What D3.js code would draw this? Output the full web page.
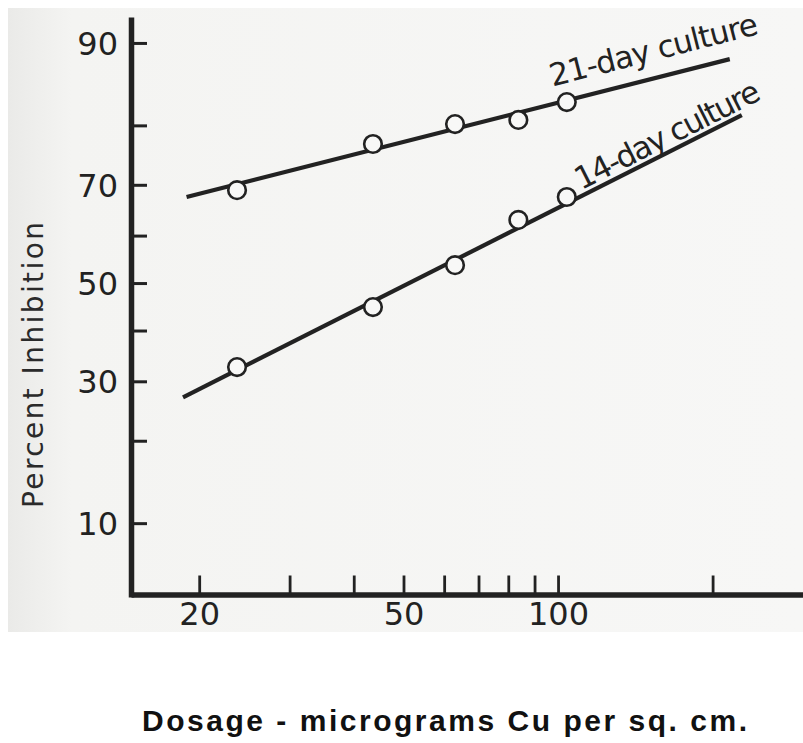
<!DOCTYPE html>
<html>
<head>
<meta charset="utf-8">
<script src="https://cdn.jsdelivr.net/npm/d3@7"></script>
<style>
  html, body { margin: 0; padding: 0; background: #ffffff; }
  svg { display: block; }
</style>
</head>
<body>
<svg id="chart" width="803" height="743"></svg>
<script>
// ---------------- data ----------------
const doses = [23.7, 43.6, 63, 83.7, 104];            // micrograms Cu per sq. cm.
const inhib21 = [69.0, 77.1, 80.2, 80.8, 83.3];        // 21-day culture, percent inhibition
const inhib14 = [32.7, 44.9, 53.8, 63.2, 67.7];        // 14-day culture, percent inhibition
const fitDose21 = [18.9, 216];
const fitInhib21 = [67.7, 88.4];
const fitDose14 = [18.6, 228];
const fitInhib14 = [27.1, 81.5];
const seriesNames = ["21-day culture", "14-day culture"];
const xTicks = [20, 30, 40, 50, 60, 70, 80, 90, 100, 200];
const xTickLabels = [20, 50, 100];
const yTicks = [10, 20, 30, 40, 50, 60, 70, 80, 90];
const yTickLabels = [10, 30, 50, 70, 90];
const xTitle = "Dosage - micrograms Cu per sq. cm.";
const yTitle = "Percent Inhibition";

// ---------------- probit (inverse normal CDF) ----------------
function probit(p) {
  const a=[-3.969683028665376e+01,2.209460984245205e+02,-2.759285104469687e+02,1.383577518672690e+02,-3.066479806614716e+01,2.506628277459239e+00];
  const b=[-5.447609879822406e+01,1.615858368580409e+02,-1.556989798598866e+02,6.680131188771972e+01,-1.328068155288572e+01];
  const c=[-7.784894002430293e-03,-3.223964580411365e-01,-2.400758277161838e+00,-2.549732539343734e+00,4.374664141464968e+00,2.938163982698783e+00];
  const d=[7.784695709041462e-03,3.224671290700398e-01,2.445134137142996e+00,3.754408661907416e+00];
  const pl = 0.02425, ph = 1 - pl;
  let q, r;
  if (p < pl) { q = Math.sqrt(-2*Math.log(p)); return (((((c[0]*q+c[1])*q+c[2])*q+c[3])*q+c[4])*q+c[5])/((((d[0]*q+d[1])*q+d[2])*q+d[3])*q+1); }
  if (p <= ph) { q = p - 0.5; r = q*q; return (((((a[0]*r+a[1])*r+a[2])*r+a[3])*r+a[4])*r+a[5])*q/(((((b[0]*r+b[1])*r+b[2])*r+b[3])*r+b[4])*r+1); }
  q = Math.sqrt(-2*Math.log(1-p));
  return -(((((c[0]*q+c[1])*q+c[2])*q+c[3])*q+c[4])*q+c[5])/((((d[0]*q+d[1])*q+d[2])*q+d[3])*q+1);
}

// custom probability scale built on d3.scaleLinear
function scaleProbit() {
  const lin = d3.scaleLinear();
  let dom = [5, 95];
  function s(v) { return lin(probit(v / 100)); }
  s.domain = function(dd) { if (!arguments.length) return dom.slice(); dom = dd.slice(); lin.domain(dom.map(v => probit(v / 100))); return s; };
  s.range = function(rr) { if (!arguments.length) return lin.range(); lin.range(rr); return s; };
  s.copy = function() { return scaleProbit().domain(dom).range(lin.range()); };
  s.domain(dom);
  return s;
}

// ---------------- layout ----------------
const ink = "#222";
const svg = d3.select("#chart");
const axisX = 131, axisY = 594.5, topY = 17, rightX = 803;

// scanned paper background
const defs = svg.append("defs");
const grad = defs.append("linearGradient").attr("id", "paper").attr("x1", "0").attr("x2", "1").attr("y1", "0").attr("y2", "0");
grad.append("stop").attr("offset", "0").attr("stop-color", "#eaeae8");
grad.append("stop").attr("offset", "0.08").attr("stop-color", "#f4f4f2");
grad.append("stop").attr("offset", "1").attr("stop-color", "#f7f7f6");
svg.append("rect").attr("x", 8).attr("y", 8).attr("width", 795).attr("height", 624).attr("fill", "url(#paper)");

const x = d3.scaleLog().domain([14.73, 300]).range([axisX, rightX]);
const y = scaleProbit().domain([4.69, 92.22]).range([597, topY]);

// y axis
const yAxis = d3.axisLeft(y)
  .tickValues(yTicks)
  .tickSizeInner(-16)
  .tickSizeOuter(0)
  .tickPadding(13)
  .tickFormat(d => yTickLabels.includes(d) ? String(d) : "");
const gy = svg.append("g").attr("transform", `translate(${axisX},0)`).call(yAxis);
gy.select(".domain").attr("stroke", ink).attr("stroke-width", 5.5);
gy.selectAll(".tick line").attr("stroke", ink).attr("stroke-width", 3);
gy.selectAll(".tick text").attr("fill", ink)
  .attr("font-family", "DejaVu Sans").attr("font-size", 32).attr("dy", "0.36em");

// x axis
const xAxis = d3.axisBottom(x)
  .tickValues(xTicks)
  .tickSizeInner(-19)
  .tickSizeOuter(0)
  .tickPadding(8)
  .tickFormat(d => xTickLabels.includes(d) ? String(d) : "");
const gx = svg.append("g").attr("transform", `translate(0,${axisY})`).call(xAxis);
gx.select(".domain").attr("stroke", ink).attr("stroke-width", 5.5);
gx.selectAll(".tick line").attr("stroke", ink).attr("stroke-width", 2.8);
gx.selectAll(".tick text").attr("fill", ink)
  .attr("font-family", "DejaVu Sans").attr("font-size", 32);

// fitted lines
const lineGen = d3.line().x(d => x(d[0])).y(d => y(d[1]));
const fits = [
  d3.zip(fitDose21, fitInhib21),
  d3.zip(fitDose14, fitInhib14)
];
svg.append("g").selectAll("path").data(fits).join("path")
  .attr("d", lineGen)
  .attr("fill", "none")
  .attr("stroke", ink)
  .attr("stroke-width", 4.2);

// points
const pts = [
  d3.zip(doses, inhib21),
  d3.zip(doses, inhib14)
].flat();
svg.append("g").selectAll("circle").data(pts).join("circle")
  .attr("cx", d => x(d[0]))
  .attr("cy", d => y(d[1]))
  .attr("r", 8.8)
  .attr("fill", "#f8f8f7")
  .attr("stroke", ink)
  .attr("stroke-width", 2.6);

// line labels (anchored in data space, rotated along their fitted line)
const labelAnchors = [
  { dose: 97.5, pct: 85.3, len: 214 },
  { dose: 111, pct: 69.0, len: 203 }
];
labelAnchors.forEach((a, i) => {
  const f = fits[i];
  const ang = Math.atan2(y(f[1][1]) - y(f[0][1]), x(f[1][0]) - x(f[0][0])) * 180 / Math.PI;
  svg.append("text")
    .attr("transform", `translate(${x(a.dose)},${y(a.pct)}) rotate(${ang})`)
    .attr("font-family", "DejaVu Sans")
    .attr("font-size", 31)
    .attr("fill", ink)
    .attr("textLength", a.len)
    .attr("lengthAdjust", "spacing")
    .text(seriesNames[i]);
});

// axis titles
svg.append("text")
  .attr("transform", "translate(43,365) rotate(-90)")
  .attr("text-anchor", "middle")
  .attr("font-family", "DejaVu Sans")
  .attr("font-size", 28)
  .attr("fill", "#2a2a2a")
  .attr("textLength", 286)
  .attr("lengthAdjust", "spacing")
  .text(yTitle);

svg.append("text")
  .attr("x", 142)
  .attr("y", 731)
  .attr("font-family", "Liberation Sans")
  .attr("font-weight", "bold")
  .attr("font-size", 30)
  .attr("fill", "#111")
  .attr("textLength", 605)
  .attr("lengthAdjust", "spacing")
  .text(xTitle);
</script>
</body>
</html>
